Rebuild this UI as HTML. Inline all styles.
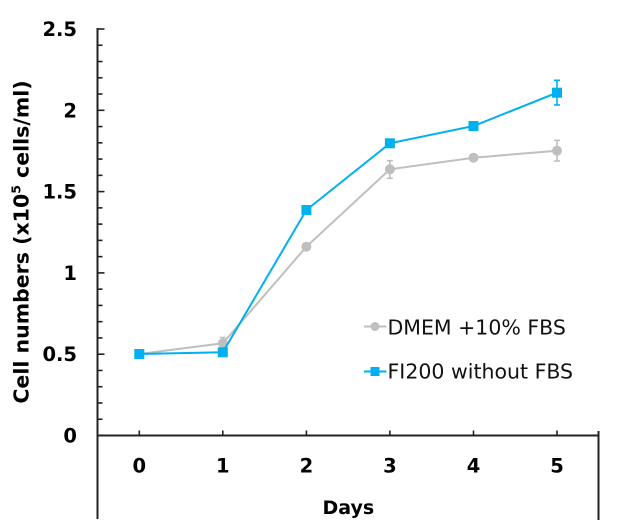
<!DOCTYPE html>
<html>
<head>
<meta charset="utf-8">
<style>
  html,body{margin:0;padding:0;background:#fff;}
  svg{display:block;}
  .tk{font-family:"DejaVu Sans","Liberation Sans",sans-serif;font-weight:bold;font-size:19.5px;fill:#000;}
  .lg{font-family:"DejaVu Sans","Liberation Sans",sans-serif;font-size:20.5px;fill:#111;}
</style>
</head>
<body>
<svg width="618" height="529" viewBox="0 0 618 529" xmlns="http://www.w3.org/2000/svg">
  <rect width="618" height="529" fill="#fff"/>
  <!-- axes -->
  <g stroke="#222" stroke-width="2" fill="none">
    <line x1="97.5" y1="28" x2="97.5" y2="519"/>
    <line x1="96.5" y1="435.5" x2="599" y2="435.5"/>
    <line x1="598.5" y1="431" x2="598.5" y2="520"/>
  </g>
  <!-- y ticks -->
  <g stroke="#222" stroke-width="1.6">
    <line x1="97.5" y1="29" x2="104.5" y2="29"/>
    <line x1="97.5" y1="45.26" x2="102.5" y2="45.26"/>
    <line x1="97.5" y1="61.52" x2="102.5" y2="61.52"/>
    <line x1="97.5" y1="77.78" x2="102.5" y2="77.78"/>
    <line x1="97.5" y1="94.04" x2="102.5" y2="94.04"/>
    <line x1="97.5" y1="110.3" x2="104.5" y2="110.3"/>
    <line x1="97.5" y1="126.56" x2="102.5" y2="126.56"/>
    <line x1="97.5" y1="142.82" x2="102.5" y2="142.82"/>
    <line x1="97.5" y1="159.08" x2="102.5" y2="159.08"/>
    <line x1="97.5" y1="175.34" x2="102.5" y2="175.34"/>
    <line x1="97.5" y1="191.6" x2="104.5" y2="191.6"/>
    <line x1="97.5" y1="207.86" x2="102.5" y2="207.86"/>
    <line x1="97.5" y1="224.12" x2="102.5" y2="224.12"/>
    <line x1="97.5" y1="240.38" x2="102.5" y2="240.38"/>
    <line x1="97.5" y1="256.64" x2="102.5" y2="256.64"/>
    <line x1="97.5" y1="272.9" x2="104.5" y2="272.9"/>
    <line x1="97.5" y1="289.16" x2="102.5" y2="289.16"/>
    <line x1="97.5" y1="305.42" x2="102.5" y2="305.42"/>
    <line x1="97.5" y1="321.68" x2="102.5" y2="321.68"/>
    <line x1="97.5" y1="337.94" x2="102.5" y2="337.94"/>
    <line x1="97.5" y1="354.2" x2="104.5" y2="354.2"/>
    <line x1="97.5" y1="370.46" x2="102.5" y2="370.46"/>
    <line x1="97.5" y1="386.72" x2="102.5" y2="386.72"/>
    <line x1="97.5" y1="402.98" x2="102.5" y2="402.98"/>
    <line x1="97.5" y1="419.24" x2="102.5" y2="419.24"/>
  </g>
  <!-- x ticks -->
  <g stroke="#222" stroke-width="1.6">
    <line x1="139.3" y1="435.5" x2="139.3" y2="430.5"/>
    <line x1="222.8" y1="435.5" x2="222.8" y2="430.5"/>
    <line x1="306.4" y1="435.5" x2="306.4" y2="430.5"/>
    <line x1="389.9" y1="435.5" x2="389.9" y2="430.5"/>
    <line x1="473.5" y1="435.5" x2="473.5" y2="430.5"/>
    <line x1="557" y1="435.5" x2="557" y2="430.5"/>
  </g>
  <!-- y labels -->
  <g class="tk" text-anchor="end">
    <text x="77" y="36">2.5</text>
    <text x="77" y="117.3">2</text>
    <text x="77" y="198.6">1.5</text>
    <text x="77" y="279.9">1</text>
    <text x="77" y="361.2">0.5</text>
    <text x="77" y="442.5">0</text>
  </g>
  <!-- x labels -->
  <g class="tk" text-anchor="middle">
    <text x="139.3" y="472.3">0</text>
    <text x="222.8" y="472.3">1</text>
    <text x="306.4" y="472.3">2</text>
    <text x="389.9" y="472.3">3</text>
    <text x="473.5" y="472.3">4</text>
    <text x="557" y="472.3">5</text>
    <text x="348.3" y="514" style="font-size:19px">Days</text>
  </g>
  <!-- y title -->
  <text transform="translate(28.5,242) rotate(-90)" text-anchor="middle" style="font-family:'DejaVu Sans','Liberation Sans',sans-serif;font-weight:bold;font-size:20.5px;fill:#000;">Cell numbers (x10<tspan dy="-8" font-size="12.5">5</tspan><tspan dy="8"> cells/ml)</tspan></text>

  <!-- gray series -->
  <g stroke="#BFBFBF" stroke-width="1.6" fill="none">
    <polyline points="139.3,354 222.8,343.3 306.4,246.7 389.9,169.3 473.5,157.7 557,150.7" stroke-width="2"/>
    <line x1="222.8" y1="337.5" x2="222.8" y2="349"/><line x1="219.8" y1="337.5" x2="225.8" y2="337.5"/>
    <line x1="389.9" y1="160.7" x2="389.9" y2="178.3"/><line x1="386.9" y1="160.7" x2="392.9" y2="160.7"/><line x1="386.9" y1="178.3" x2="392.9" y2="178.3"/>
    <line x1="557" y1="140.3" x2="557" y2="161"/><line x1="554" y1="140.3" x2="560" y2="140.3"/><line x1="554" y1="161" x2="560" y2="161"/>
  </g>
  <g fill="#BFBFBF">
    <circle cx="139.3" cy="354" r="5"/>
    <circle cx="222.8" cy="343.3" r="5"/>
    <circle cx="306.4" cy="246.7" r="5"/>
    <circle cx="389.9" cy="169.3" r="5"/>
    <circle cx="473.5" cy="157.7" r="5"/>
    <circle cx="557" cy="150.7" r="5"/>
  </g>
  <!-- blue series -->
  <g stroke="#00B0F0" stroke-width="1.6" fill="none">
    <polyline points="139.3,354 222.8,352.3 306.4,210 389.9,143.3 473.5,126 557,92.7" stroke-width="2"/>
    <line x1="557" y1="80.3" x2="557" y2="105"/><line x1="554" y1="80.3" x2="560" y2="80.3"/><line x1="554" y1="105" x2="560" y2="105"/>
  </g>
  <g fill="#00B0F0">
    <rect x="134.3" y="349" width="10" height="10"/>
    <rect x="217.8" y="347.3" width="10" height="10"/>
    <rect x="301.4" y="205" width="10" height="10"/>
    <rect x="384.9" y="138.3" width="10" height="10"/>
    <rect x="468.5" y="121" width="10" height="10"/>
    <rect x="552" y="87.7" width="10" height="10"/>
  </g>

  <!-- legend -->
  <line x1="364" y1="326.5" x2="386.5" y2="326.5" stroke="#BFBFBF" stroke-width="2"/>
  <circle cx="375" cy="326.5" r="4.5" fill="#BFBFBF"/>
  <text class="lg" x="387.5" y="334.5">DMEM +10% FBS</text>
  <line x1="364" y1="371.5" x2="386.5" y2="371.5" stroke="#00B0F0" stroke-width="2"/>
  <rect x="370.5" y="367" width="9" height="9" fill="#00B0F0"/>
  <text class="lg" x="387.5" y="378.5">FI200 without FBS</text>
</svg>
</body>
</html>
